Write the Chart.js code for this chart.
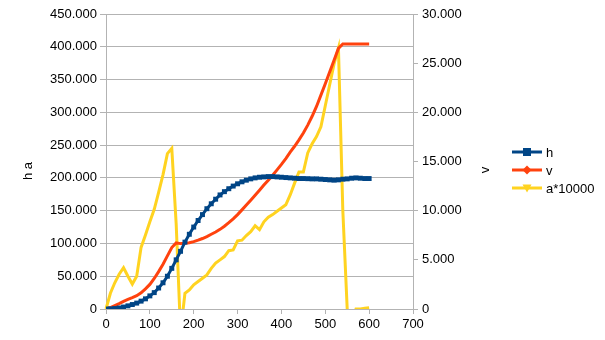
<!DOCTYPE html>
<html lang="en">
<head>
  <meta charset="UTF-8" />
  <title>h v a</title>
  <script src="https://cdn.jsdelivr.net/npm/chart.js"></script>
  <style>
    body { margin: 0; background: #fff; }
    canvas { display: block; }
  </style>
</head>
<body>
  <canvas id="chart" width="605" height="340"></canvas>

  <script>
    // x positions (shared by all three series)
    const xValues = [
      0, 10, 20, 30, 40, 50, 60, 70, 80, 90,
      100, 110, 120, 130, 140, 150, 160, 170, 180, 190,
      200, 210, 220, 230, 240, 250, 260, 270, 280, 290,
      300, 310, 320, 330, 340, 350, 360, 370, 380, 390,
      400, 410, 420, 430, 440, 450, 460, 470, 480, 490,
      500, 510, 520, 530, 540, 550, 560, 570, 580, 590, 600
    ];

    // h (left axis)
    const hValues = [
      0, 200, 700, 1600, 3000, 4800, 6800, 9000, 12000, 15500,
      20000, 25000, 32000, 40000, 50000, 62000, 75000, 88000, 102000, 114000,
      125000, 135000, 144000, 153000, 160500, 167500, 174000, 179000, 183500, 187500,
      191000, 194000, 196500, 198500, 200000, 201000, 201500, 202000, 202000, 201500,
      201000, 200500, 200000, 199500, 199000, 199000, 198800, 198500, 198500, 198000,
      197500, 197000, 196500, 197000, 198000, 198500, 199500, 200000, 199500, 199000, 199000
    ];

    // v (right axis)
    const vValues = [
      0, 0.15, 0.35, 0.55, 0.78, 0.98, 1.15, 1.35, 1.65, 2.05,
      2.5, 3.1, 3.8, 4.55, 5.4, 6.25, 6.72, 6.65, 6.68, 6.74,
      6.85, 7.0, 7.17, 7.37, 7.6, 7.83, 8.1, 8.42, 8.78, 9.17,
      9.6, 10.08, 10.57, 11.07, 11.57, 12.08, 12.6, 13.1, 13.6, 14.15,
      14.7, 15.3, 15.95, 16.55, 17.2, 17.9, 18.7, 19.6, 20.6, 21.75,
      22.9, 24.1, 25.3, 26.5, 26.95, 26.95, 26.95, 26.95, 26.95, 26.95, 26.95
    ];

    // a*10000 (left axis)
    const aValues = [
      0, 24000, 40000, 53000, 63000, 50000, 38000, 50000, 94000, 113000,
      133000, 152000, 178000, 205000, 237000, 245000, 130000, -35000, 24000, 29000,
      37000, 42000, 47000, 52000, 62000, 70000, 75000, 80000, 89000, 90000,
      104000, 105000, 112000, 118000, 127000, 121000, 133000, 140000, 144000, 149000,
      154000, 159000, 174000, 192000, 209000, 209000, 238000, 252000, 263000, 278000,
      310000, 342000, 374000, 398000, 150000, 0, -20000, 0, 0, 1000, 2000
    ];

    const seriesNames = ['h', 'v', 'a*10000'];
    const seriesColors = ['#004586', '#ff420e', '#ffd320'];

    const FONT = '13px "Liberation Sans", Arial, sans-serif';
    const GRID = '#b3b3b3';

    function thousands(v) {
      return String(v).replace(/\B(?=(\d{3})+(?!\d))/g, '.');
    }

    function pts(ys) {
      return xValues.map((x, i) => ({ x: x, y: ys[i] }));
    }

    // legend + axis titles drawn by hand (LibreOffice look)
    const extras = {
      id: 'extras',
      afterDraw(chart) {
        const c = chart.ctx;
        c.save();
        c.font = FONT;
        c.fillStyle = '#000';
        c.textAlign = 'center';
        c.textBaseline = 'middle';

        c.save();
        c.translate(28, 171);
        c.rotate(-Math.PI / 2);
        c.fillText('h a', 0, 0);
        c.restore();

        c.save();
        c.translate(485, 170);
        c.rotate(-Math.PI / 2);
        c.fillText('v', 0, 0);
        c.restore();

        const rows = [152, 170, 188];
        seriesNames.forEach((name, i) => {
          const y = rows[i];
          c.strokeStyle = seriesColors[i];
          c.fillStyle = seriesColors[i];
          c.lineWidth = 3;
          c.beginPath();
          c.moveTo(512, y);
          c.lineTo(542, y);
          c.stroke();
          c.beginPath();
          if (i === 0) {
            c.rect(523, y - 4, 8, 8);
          } else if (i === 1) {
            c.moveTo(527, y - 4.5);
            c.lineTo(531.5, y);
            c.lineTo(527, y + 4.5);
            c.lineTo(522.5, y);
          } else {
            c.moveTo(522.5, y - 3.5);
            c.lineTo(531.5, y - 3.5);
            c.lineTo(527, y + 4.5);
          }
          c.closePath();
          c.fill();
          c.fillStyle = '#000';
          c.textAlign = 'left';
          c.fillText(name, 546, y + 1);
        });
        c.restore();
      }
    };

    const ctx = document.getElementById('chart').getContext('2d');
    const chart = new Chart(ctx, {
      type: 'scatter',
      data: {
        datasets: [
          {
            label: seriesNames[0],
            data: pts(hValues),
            yAxisID: 'y',
            showLine: true,
            borderColor: seriesColors[0],
            backgroundColor: seriesColors[0],
            borderWidth: 3,
            pointStyle: 'rect',
            pointRadius: 3.5,
            pointBorderWidth: 0
          },
          {
            label: seriesNames[1],
            data: pts(vValues),
            yAxisID: 'y1',
            showLine: true,
            borderColor: seriesColors[1],
            backgroundColor: seriesColors[1],
            borderWidth: 3,
            pointRadius: 0
          },
          {
            label: seriesNames[2],
            data: pts(aValues),
            yAxisID: 'y',
            showLine: true,
            borderColor: seriesColors[2],
            backgroundColor: seriesColors[2],
            borderWidth: 3,
            pointRadius: 0,
            clip: { left: 5, top: 5, right: 5, bottom: 0 }
          }
        ]
      },
      options: {
        responsive: false,
        animation: false,
        layout: { padding: { left: 0, right: 0, top: 14, bottom: 0 } },
        plugins: {
          legend: { display: false },
          tooltip: { enabled: false }
        },
        scales: {
          x: {
            type: 'linear',
            min: 0,
            max: 700,
            ticks: { stepSize: 100, color: '#000', font: { family: '"Liberation Sans", Arial, sans-serif', size: 13 }, padding: 3, maxRotation: 0 },
            grid: { drawOnChartArea: false, tickLength: 5, color: GRID },
            border: { color: GRID },
            afterFit: s => { s.height = 31; }
          },
          y: {
            position: 'left',
            min: 0,
            max: 450000,
            ticks: { stepSize: 50000, color: '#000', font: { family: '"Liberation Sans", Arial, sans-serif', size: 13 }, padding: 3, callback: v => thousands(v) },
            grid: { color: GRID, tickLength: 6 },
            border: { color: GRID },
            afterFit: s => { s.width = 106; }
          },
          y1: {
            position: 'right',
            min: 0,
            max: 30,
            ticks: { stepSize: 5, color: '#000', font: { family: '"Liberation Sans", Arial, sans-serif', size: 13 }, padding: 4, callback: v => (v === 0 ? '0' : v.toFixed(3)) },
            grid: { drawOnChartArea: false, tickLength: 5, color: GRID },
            border: { color: GRID },
            afterFit: s => { s.width = 192; }
          }
        }
      },
      plugins: [extras]
    });
  </script>
</body>
</html>
